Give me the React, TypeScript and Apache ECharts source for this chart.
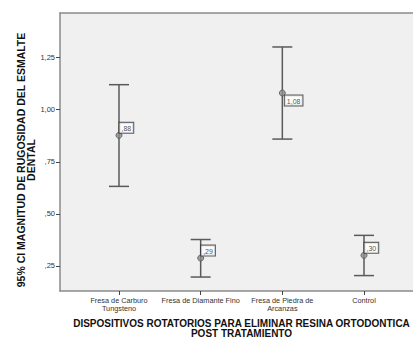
import React, { useEffect, useRef } from "react";
import * as echarts from "echarts";

const categories = [
  "Fresa de Carburo\nTungsteno",
  "Fresa de Diamante Fino",
  "Fresa de Piedra de\nArcanzas",
  "Control",
];
const means = [0.877, 0.288, 1.08, 0.301];
const lowerCI = [0.632, 0.197, 0.859, 0.204];
const upperCI = [1.12, 0.377, 1.301, 0.397];
const yTicks = [0.25, 0.5, 0.75, 1.0, 1.25];
const xPositions = [0, 1, 2, 3];

const yTitle = "95% CI MAGNITUD DE RUGOSIDAD DEL ESMALTE\nDENTAL";
const xTitle = "DISPOSITIVOS ROTATORIOS PARA ELIMINAR RESINA ORTODONTICA\nPOST TRATAMIENTO";

const FONT = "'Liberation Sans', Arial, sans-serif";

const fmt = (v: number) => v.toFixed(2).replace(".", ",").replace(/^0/, "");

export default function App() {
  const ref = useRef<HTMLDivElement>(null);
  useEffect(() => {
    if (!ref.current) return;
    const chart = echarts.init(ref.current, null, { renderer: "svg" });
    const errData = xPositions.map((x, i) => [x, lowerCI[i], upperCI[i]]);
    const meanData = xPositions.map((x, i) => {
      const below = means[i] > 1.0;
      return {
        value: [x, means[i]],
        label: below
          ? { position: [6, 6], verticalAlign: "top" }
          : { position: [4, 1], verticalAlign: "bottom" },
      };
    });
    const border = { color: "#8a8a8a", width: 1.5 };
    chart.setOption({
      animation: false,
      backgroundColor: "#ffffff",
      textStyle: { fontFamily: FONT },
      grid: {
        left: 60,
        top: 13,
        width: 363,
        height: 278,
        outerBoundsMode: "none",
        containLabel: false,
        show: true,
        backgroundColor: "#f0f0f0",
        borderColor: "rgba(0,0,0,0)",
        borderWidth: 0,
      },
      xAxis: [
        {
          type: "value",
          min: -0.7224,
          max: 3.7224,
          position: "bottom",
          splitLine: { show: false },
          axisLine: { show: true, onZero: false, lineStyle: border },
          axisTick: {
            show: true,
            customValues: xPositions,
            length: 4,
            lineStyle: { color: "#444", width: 1 },
          },
          axisLabel: {
            customValues: xPositions,
            formatter: (v: number) => categories[Math.round(v)] ?? "",
            fontSize: 7.3,
            lineHeight: 7.5,
            color: "#333",
            margin: 6,
            fontFamily: FONT,
          },
        },
        {
          type: "value",
          min: -0.7224,
          max: 3.7224,
          position: "top",
          splitLine: { show: false },
          axisLine: { show: true, onZero: false, lineStyle: border },
          axisTick: { show: false },
          axisLabel: { show: false },
        },
      ],
      yAxis: {
        type: "value",
        min: 0.13,
        max: 1.464,
        splitLine: { show: false },
        axisLine: { show: true, onZero: false, lineStyle: border },
        axisTick: {
          show: true,
          customValues: yTicks,
          length: 4,
          lineStyle: { color: "#444", width: 1 },
        },
        axisLabel: {
          customValues: yTicks,
          formatter: (v: number) => fmt(v),
          fontSize: 7.5,
          color: "#333",
          margin: 5,
          fontFamily: FONT,
        },
      },
      graphic: [
        {
          type: "text",
          x: 26,
          y: 160,
          rotation: Math.PI / 2,
          style: {
            text: yTitle,
            align: "center",
            verticalAlign: "middle",
            font: `bold 10.5px ${FONT}`,
            lineHeight: 10,
            fill: "#111",
          },
        },
        {
          type: "text",
          x: 241.5,
          y: 328,
          style: {
            text: xTitle,
            align: "center",
            verticalAlign: "middle",
            font: `bold 10px ${FONT}`,
            lineHeight: 10,
            fill: "#111",
          },
        },
      ],
      series: [
        {
          type: "custom",
          data: errData,
          renderItem: (params: any, api: any) => {
            const x = api.value(0);
            const lo = api.coord([x, api.value(1)]);
            const hi = api.coord([x, api.value(2)]);
            const half = 10;
            const style = { stroke: "#5a5a5a", lineWidth: 1.5 };
            return {
              type: "group",
              children: [
                { type: "line", shape: { x1: lo[0], y1: lo[1], x2: hi[0], y2: hi[1] }, style },
                { type: "line", shape: { x1: hi[0] - half, y1: hi[1], x2: hi[0] + half, y2: hi[1] }, style },
                { type: "line", shape: { x1: lo[0] - half, y1: lo[1], x2: lo[0] + half, y2: lo[1] }, style },
              ],
            };
          },
        },
        {
          type: "scatter",
          data: meanData,
          symbol: "circle",
          symbolSize: 6,
          itemStyle: { color: "#8c8c8c", borderColor: "#555", borderWidth: 1 },
          label: {
            show: true,
            formatter: (p: any) => fmt(p.value[1]),
            align: "left",
            fontSize: 7,
            color: "#222",
            backgroundColor: "#ffffff",
            borderColor: "#333",
            borderWidth: 1,
            padding: [2, 2, 1, 2],
            fontFamily: FONT,
          },
        },
      ],
    });
    return () => chart.dispose();
  }, []);
  return (
    <div
      ref={ref}
      style={{ position: "fixed", left: 0, top: 0, width: 413, height: 338, overflow: "hidden" }}
    />
  );
}
